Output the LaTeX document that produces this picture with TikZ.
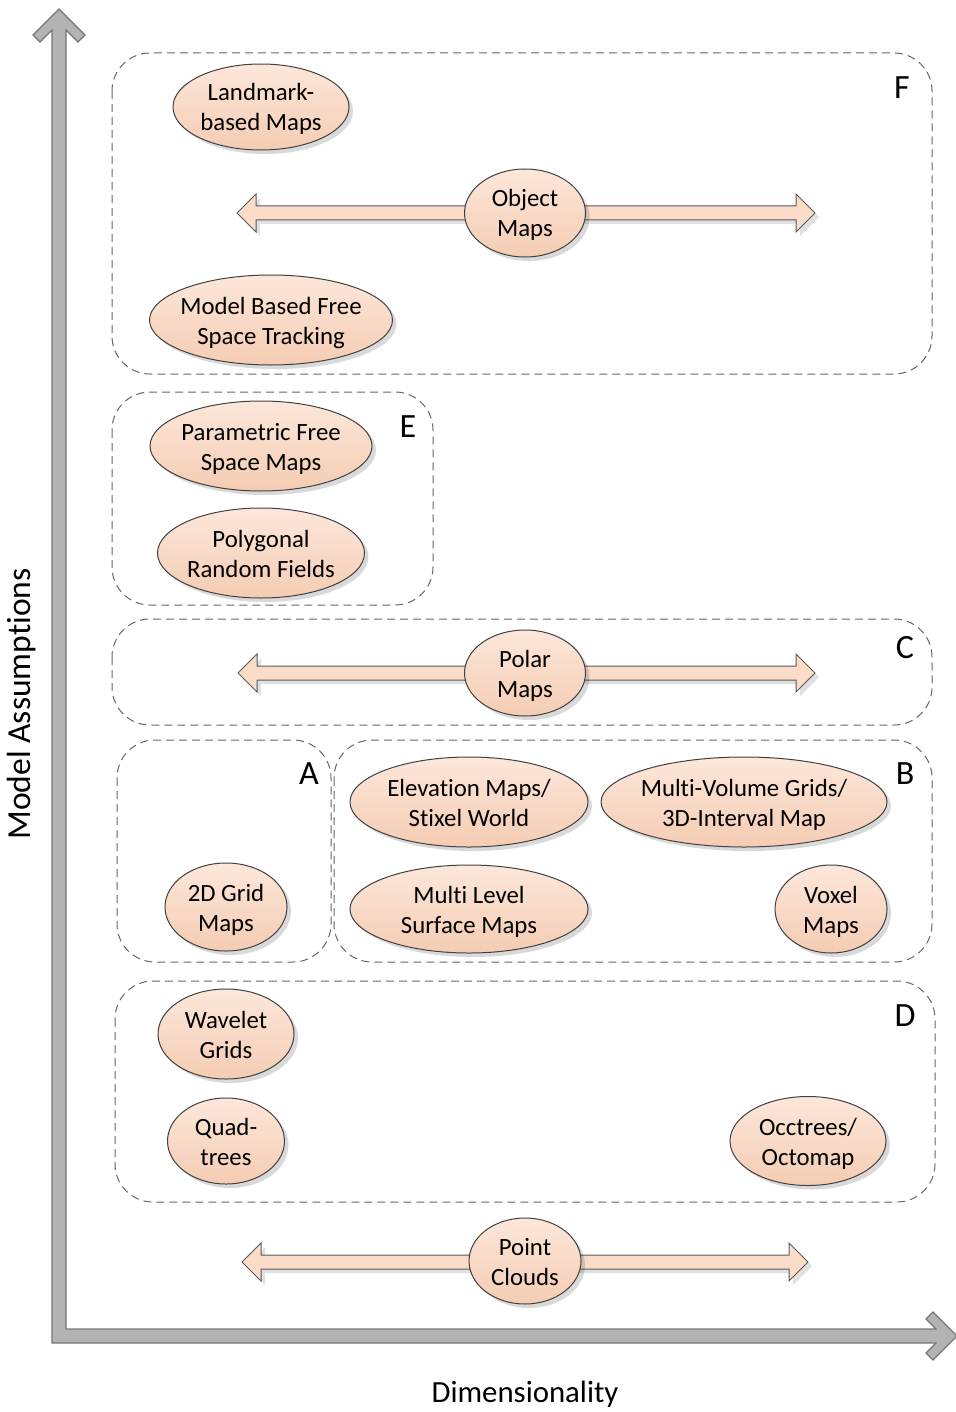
\documentclass[tikz,border=0pt]{standalone}
\usepackage{fontspec}
\setmainfont[Ligatures=NoCommon]{Carlito}
\usepackage{tikz}
\usetikzlibrary{shapes.geometric,shapes.arrows,shadows}

\definecolor{peachtop}{HTML}{FCE7DA}
\definecolor{peachbot}{HTML}{F5CCB3}
\definecolor{peacharrow}{HTML}{FADCC9}
\definecolor{axisgray}{HTML}{B3B3B3}
\definecolor{axisedge}{HTML}{767676}

\newcommand{\maptext}[1]{\raisebox{-1.5pt}[\height][\depth]{\makebox[0pt]{\begin{tabular}{@{}c@{}}#1\end{tabular}}}}

\tikzset{
  mapnode/.style={ellipse, draw=black!75, line width=0.5pt, top color=peachtop, bottom color=peachbot,
    inner sep=0pt, font=\fontsize{12.4}{15}\selectfont,
    drop shadow={shadow xshift=2pt, shadow yshift=-2pt, fill=black, opacity=0.15}},
  spanarrow/.style={double arrow, draw=black!65, line width=0.5pt, fill=peacharrow, inner sep=3.25pt,
    double arrow head extend=6pt, minimum width=18.5pt,
    drop shadow={shadow xshift=2pt, shadow yshift=-2pt, fill=black, opacity=0.12}},
  groupbox/.style={draw=black!60, line width=0.5pt, dash pattern=on 4pt off 2.5pt, rounded corners=19pt},
  grouplabel/.style={font=\fontsize{17}{20}\selectfont, inner sep=0pt},
  axislabel/.style={font=\fontsize{15.4}{18}\selectfont, inner sep=0pt},
  axis/.style={draw=axisedge, fill=axisgray, line width=0.6pt}
}

\begin{document}
\begin{tikzpicture}[x=0.5pt, y=-0.5pt]
\useasboundingbox (0,0) rectangle (956,1412);

% axes %
\path[axis] (52,1343) -- (52,30) -- (40,42) -- (33,35) -- (59,9) -- (85,35) -- (78,42) -- (66,30)
  -- (66,1329) -- (936,1329) -- (926,1319) -- (933,1312) -- (957,1336) -- (933,1360) -- (926,1353)
  -- (936,1343) -- cycle;
\node[axislabel, rotate=90, font=\fontsize{16.8}{19}\selectfont] (ylab) at (22,704) {Model Assumptions};
\node[axislabel] (xlab) at (525,1394) {Dimensionality};

% groups %
\draw[groupbox] (112,53) rectangle (932,374);
\draw[groupbox] (112,392) rectangle (433,605);
\draw[groupbox] (112,619) rectangle (932,725);
\draw[groupbox] (117,740) rectangle (331,962);
\draw[groupbox] (334,740) rectangle (932,962);
\draw[groupbox] (115,981) rectangle (935,1202);
\node[grouplabel] (labF) at (902,88) {F};
\node[grouplabel] (labE) at (408,427) {E};
\node[grouplabel] (labC) at (905,648) {C};
\node[grouplabel] (labA) at (309,774) {A};
\node[grouplabel] (labB) at (905,774) {B};
\node[grouplabel] (labD) at (905,1016) {D};

% arrows %
\node[spanarrow, minimum height=289pt] (objspan) at (526,213) {};
\node[spanarrow, minimum height=288.5pt] (polarspan) at (526.5,673) {};
\node[spanarrow, minimum height=283pt] (pcspan) at (525,1262) {};

% maps %
\node[mapnode, minimum width=88pt, minimum height=43pt] (landmark) at (261,107) {\maptext{Landmark-\\based Maps}};
\node[mapnode, minimum width=60.5pt, minimum height=44pt] (object) at (525,213) {\maptext{Object\\Maps}};
\node[mapnode, minimum width=121.5pt, minimum height=45pt] (mbfree) at (271,320) {\maptext{Model Based Free\\Space Tracking}};
\node[mapnode, minimum width=111pt, minimum height=45pt] (pfree) at (261,446) {\maptext{Parametric Free\\Space Maps}};
\node[mapnode, minimum width=103.5pt, minimum height=45pt] (polyrf) at (261,553) {\maptext{Polygonal\\Random Fields}};
\node[mapnode, minimum width=60.5pt, minimum height=43pt] (polar) at (525,673) {\maptext{Polar\\Maps}};
\node[mapnode, minimum width=119pt, minimum height=45pt] (elev) at (469,802) {\maptext{Elevation Maps/\\Stixel World}};
\node[mapnode, minimum width=143pt, minimum height=45pt] (mvgrid) at (744,802) {\maptext{Multi-Volume Grids/\\3D-Interval Map}};
\node[mapnode, minimum width=61pt, minimum height=44pt] (grid) at (226,907) {\maptext{2D Grid\\Maps}};
\node[mapnode, minimum width=119pt, minimum height=44pt] (mls) at (469,909) {\maptext{Multi Level\\Surface Maps}};
\node[mapnode, minimum width=56pt, minimum height=44pt] (voxel) at (831,909) {\maptext{Voxel\\Maps}};
\node[mapnode, minimum width=68pt, minimum height=45pt] (wavelet) at (226,1034) {\maptext{Wavelet\\Grids}};
\node[mapnode, minimum width=58.5pt, minimum height=43pt] (quad) at (226,1141) {\maptext{Quad-\\trees}};
\node[mapnode, minimum width=78pt, minimum height=44.5pt] (octree) at (808,1141) {\maptext{Occtrees/\\Octomap}};
\node[mapnode, minimum width=56pt, minimum height=43pt] (pcloud) at (525,1261) {\maptext{Point\\Clouds}};
\end{tikzpicture}
\end{document}
